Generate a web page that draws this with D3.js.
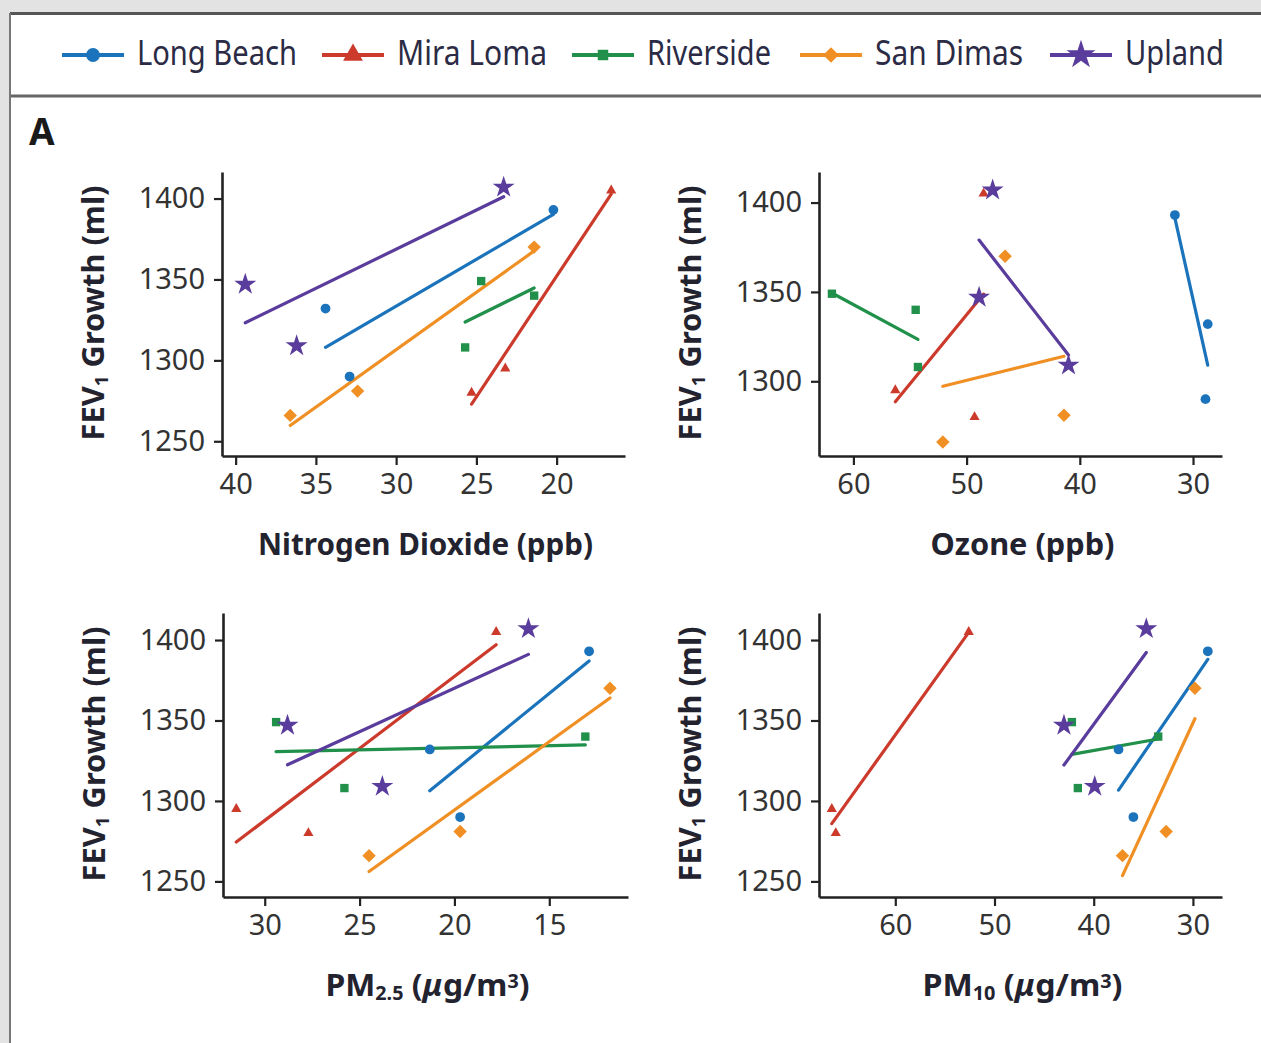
<!DOCTYPE html>
<html>
<head>
<meta charset="utf-8">
<script src="https://cdn.jsdelivr.net/npm/d3@7"></script>
<style>
  body { margin: 0; background: #e3e3e3; }
  svg { display: block; }
</style>
</head>
<body>
<div id="chart"></div>
<script>
"use strict";

// Sites, one colour + marker each
var sites = ["Long Beach", "Mira Loma", "Riverside", "San Dimas", "Upland"];
var siteColors = ["#1b74bb", "#cc3a2c", "#21904a", "#ef8f24", "#5a3c9c"];
var siteShapes = ["circle", "triangle", "square", "diamond", "star"];

// FEV1 growth (ml), three cohorts per site (same order in every pollutant array)
var fevGrowth = [
  [1393, 1332, 1290],
  [1405, 1295, 1280],
  [1349, 1340, 1308],
  [1370, 1266, 1281],
  [1407, 1347, 1309]
];

// pollutant levels, same site / cohort order
var no2 = [
  [20.2, 34.4, 32.9],
  [16.6, 23.2, 25.3],
  [24.7, 21.4, 25.7],
  [21.4, 36.6, 32.4],
  [23.3, 39.4, 36.2]
];
var ozone = [
  [31.6, 28.7, 28.9],
  [48.5, 56.3, 49.3],
  [61.9, 54.5, 54.3],
  [46.6, 52.1, 41.4],
  [47.7, 48.9, 41.0]
];
var pm25 = [
  [12.9, 21.3, 19.7],
  [17.8, 31.5, 27.7],
  [29.4, 13.1, 25.8],
  [11.8, 24.5, 19.7],
  [16.1, 28.8, 23.8]
];
var pm10 = [
  [28.5, 37.5, 36.0],
  [52.6, 66.4, 66.0],
  [42.2, 33.5, 41.6],
  [29.8, 37.1, 32.7],
  [34.7, 43.0, 39.9]
];

var fevTicks = [1250, 1300, 1350, 1400];
var fevTicksOzone = [1300, 1350, 1400];
var no2Ticks = [40, 35, 30, 25, 20];
var ozoneTicks = [60, 50, 40, 30];
var pm25Ticks = [30, 25, 20, 15];
var pm10Ticks = [60, 50, 40, 30];

var W = 1261, H = 1043;
var textColor = "#23232f";
var fontFam = "'Noto Sans', 'Open Sans', sans-serif";

var svg = d3.select("#chart").append("svg")
    .attr("width", W)
    .attr("height", H);

// frame //////////////////////////////
svg.append("rect").attr("x", 10).attr("y", 13).attr("width", W - 10).attr("height", H - 13)
    .attr("fill", "white");
svg.append("line").attr("x1", 10).attr("x2", W).attr("y1", 13.5).attr("y2", 13.5)
    .attr("stroke", "#555").attr("stroke-width", 3);
svg.append("line").attr("x1", 10).attr("x2", W).attr("y1", 96).attr("y2", 96)
    .attr("stroke", "#666").attr("stroke-width", 3);
svg.append("line").attr("x1", 10).attr("x2", 10).attr("y1", 13).attr("y2", H)
    .attr("stroke", "#777").attr("stroke-width", 2);

// marker helper
function marker(sel, shape, size) {
  var sym = {
    circle: d3.symbolCircle, triangle: d3.symbolTriangle, square: d3.symbolSquare,
    diamond: d3.symbolSquare, star: d3.symbolStar
  }[shape];
  var p = sel.append("path").attr("d", d3.symbol(sym, size)());
  return p;
}

function markerTransform(shape, x, y) {
  return "translate(" + x + "," + y + ")" + (shape === "diamond" ? " rotate(45)" : "");
}

// legend //////////////////////////////
var legendX = [62, 322, 572, 800, 1050];
var legendW = [160, 150, 124, 148, 99];
var legendSizes = { circle: 150, triangle: 170, square: 110, diamond: 120, star: 260 };

sites.forEach(function(s, i) {
  var g = svg.append("g");
  g.append("line")
      .attr("x1", legendX[i]).attr("x2", legendX[i] + 62)
      .attr("y1", 55).attr("y2", 55)
      .attr("stroke", siteColors[i]).attr("stroke-width", 4);
  marker(g, siteShapes[i], legendSizes[siteShapes[i]])
      .attr("transform", markerTransform(siteShapes[i], legendX[i] + 31, 55))
      .attr("fill", siteColors[i]);
  g.append("text")
      .attr("x", legendX[i] + 75).attr("y", 65)
      .attr("font-family", fontFam).attr("font-size", 34)
      .attr("fill", "#2b2b45")
      .attr("textLength", legendW[i]).attr("lengthAdjust", "spacingAndGlyphs")
      .text(s);
});

svg.append("text").attr("x", 29).attr("y", 145)
    .attr("font-family", fontFam).attr("font-weight", "bold").attr("font-size", 37)
    .attr("fill", "#1a1a1a").text("A");

// panels //////////////////////////////
var panels = [
  { xv: no2, xDom: [40.85, 15.74], xRange: [222, 625], xTicks: no2Ticks,
    yDom: [1240.9, 1416.4], yRange: [456, 172], yTicks: fevTicks,
    title: [["Nitrogen Dioxide (ppb)", null]], titleW: 335 },
  { xv: ozone, xDom: [63.04, 27.44], xRange: [819, 1222], xTicks: ozoneTicks,
    yDom: [1258.2, 1417.1], yRange: [456, 172], yTicks: fevTicksOzone,
    title: [["Ozone (ppb)", null]], titleW: 184 },
  { xv: pm25, xDom: [32.2, 10.85], xRange: [223, 628], xTicks: pm25Ticks,
    yDom: [1240.3, 1416.8], yRange: [897, 613], yTicks: fevTicks,
    title: [["PM", null], ["2.5", "sub"], [" (", null], ["\u03bc", "it"], ["g/m", null], ["3", "sup"], [")", null]], titleW: 204 },
  { xv: pm10, xDom: [67.69, 27.07], xRange: [819, 1222], xTicks: pm10Ticks,
    yDom: [1240.3, 1416.8], yRange: [897, 613], yTicks: fevTicks,
    title: [["PM", null], ["10", "sub"], [" (", null], ["\u03bc", "it"], ["g/m", null], ["3", "sup"], [")", null]], titleW: 200 }
];

var pointSizes = { circle: 75, triangle: 45, square: 70, diamond: 90, star: 150 };

function fitLine(xs, ys) {
  var mx = d3.mean(xs), my = d3.mean(ys);
  var sxy = d3.sum(xs, function(x, k) { return (x - mx) * (ys[k] - my); });
  var sxx = d3.sum(xs, function(x) { return (x - mx) * (x - mx); });
  var b = sxy / sxx;
  var x0 = d3.min(xs), x1 = d3.max(xs);
  return [[x0, my + b * (x0 - mx)], [x1, my + b * (x1 - mx)]];
}

function addRich(textSel, parts, size) {
  parts.forEach(function(p) {
    var t = textSel.append("tspan").text(p[0]);
    if (p[1] === "sub") t.attr("baseline-shift", "-22%").attr("font-size", size * 0.62);
    if (p[1] === "sup") t.attr("baseline-shift", "42%").attr("font-size", size * 0.62);
    if (p[1] === "it") t.attr("font-style", "italic");
  });
}

panels.forEach(function(p) {
  var x = d3.scaleLinear().domain(p.xDom).range(p.xRange);
  var y = d3.scaleLinear().domain(p.yDom).range(p.yRange);
  var g = svg.append("g");

  // regression lines
  sites.forEach(function(s, i) {
    var seg = fitLine(p.xv[i], fevGrowth[i]);
    g.append("line")
        .attr("x1", x(seg[0][0])).attr("y1", y(seg[0][1]))
        .attr("x2", x(seg[1][0])).attr("y2", y(seg[1][1]))
        .attr("stroke", siteColors[i]).attr("stroke-width", 3.2)
        .attr("stroke-linecap", "round");
  });

  // points
  sites.forEach(function(s, i) {
    p.xv[i].forEach(function(v, k) {
      marker(g, siteShapes[i], pointSizes[siteShapes[i]])
          .attr("transform", markerTransform(siteShapes[i], x(v), y(fevGrowth[i][k])))
          .attr("fill", siteColors[i]);
    });
  });

  // axes
  var yAxis = g.append("g")
      .attr("transform", "translate(" + p.xRange[0] + ",0)")
      .call(d3.axisLeft(y).tickValues(p.yTicks).tickFormat(d3.format("d"))
          .tickSize(8).tickPadding(9).tickSizeOuter(0));
  var xAxis = g.append("g")
      .attr("transform", "translate(0," + p.yRange[0] + ")")
      .call(d3.axisBottom(x).tickValues(p.xTicks).tickFormat(d3.format("d"))
          .tickSize(9).tickPadding(8).tickSizeOuter(0));

  [yAxis, xAxis].forEach(function(a) {
    a.select(".domain").attr("stroke", "#222").attr("stroke-width", 2.6);
    a.selectAll(".tick line").attr("stroke", "#222").attr("stroke-width", 2.2);
    a.selectAll(".tick text")
        .attr("font-family", fontFam).attr("font-size", 29)
        .attr("fill", "#333");
  });

  // axis titles
  var midX = (p.xRange[0] + p.xRange[1]) / 2;
  var tx = g.append("text")
      .attr("x", midX + 2).attr("y", p.yRange[0] + 99)
      .attr("text-anchor", "middle")
      .attr("font-family", fontFam).attr("font-weight", "bold").attr("font-size", 31)
      .attr("fill", textColor)
      .attr("textLength", p.titleW).attr("lengthAdjust", "spacingAndGlyphs");
  addRich(tx, p.title, 31);

  var midY = (p.yRange[0] + p.yRange[1]) / 2;
  var ty = g.append("text")
      .attr("transform", "translate(" + (p.xRange[0] - 118) + "," + (midY - 1) + ") rotate(-90)")
      .attr("text-anchor", "middle")
      .attr("font-family", fontFam).attr("font-weight", "bold").attr("font-size", 30)
      .attr("fill", textColor)
      .attr("textLength", 255).attr("lengthAdjust", "spacingAndGlyphs");
  addRich(ty, [["FEV", null], ["1", "sub"], [" Growth (ml)", null]], 30);
});
</script>
</body>
</html>
